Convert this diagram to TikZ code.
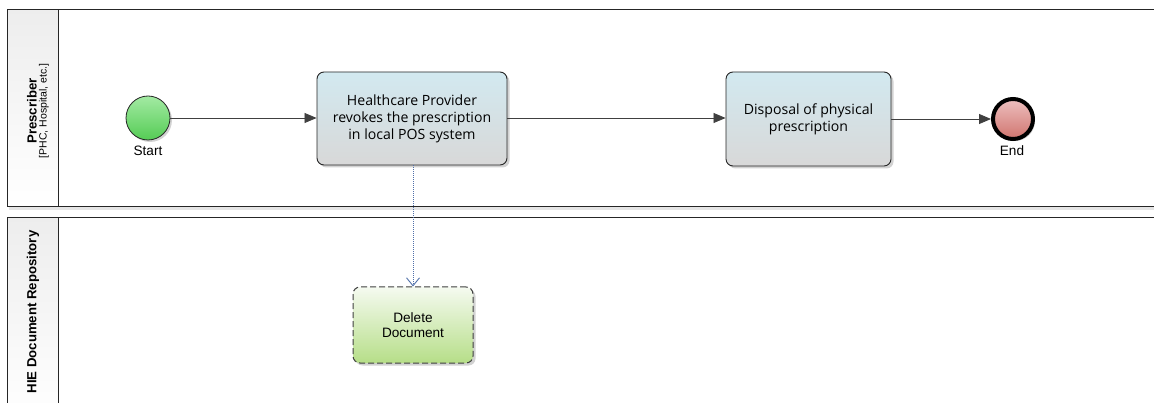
\documentclass[tikz,border=0pt]{standalone}
\usepackage{fontspec}
\setmainfont{Liberation Sans}
\newfontfamily\taskfont{Open Sans}
\usetikzlibrary{arrows.meta,shadows,positioning}
\definecolor{lineg}{HTML}{404040}
\definecolor{assoc}{HTML}{4F6FA8}
\definecolor{taskTop}{HTML}{D2E9F0}
\definecolor{taskBot}{HTML}{D8D8D8}
\definecolor{startTop}{HTML}{A3EAA3}
\definecolor{startBot}{HTML}{55CC55}
\definecolor{endTop}{HTML}{EDC0C0}
\definecolor{endBot}{HTML}{D0746E}
\definecolor{docTop}{HTML}{F5FAF0}
\definecolor{docBot}{HTML}{B6DE88}
\tikzset{
  pool/.style={draw=black!85, line width=1pt, fill=white},
  header/.style={draw=black!85, line width=1pt, top color=black!7, bottom color=white},
  task/.style={draw=black!85, line width=0.9pt, rounded corners=7pt, top color=taskTop, bottom color=taskBot,
     drop shadow={shadow xshift=2.5pt, shadow yshift=-2.5pt, fill=black!35},
     font=\taskfont\fontsize{14.1}{17}\selectfont, align=center, inner sep=0pt},
  startev/.style={circle, draw=black!85, line width=0.8pt, minimum size=44pt, inner sep=0pt, top color=startTop, bottom color=startBot,
     drop shadow={shadow xshift=2pt, shadow yshift=-2pt, fill=black!35}},
  endev/.style={circle, draw=black, line width=4pt, minimum size=40pt, inner sep=0pt, top color=endTop, bottom color=endBot,
     drop shadow={shadow xshift=2pt, shadow yshift=-2pt, fill=black!35}},
  artifact/.style={draw=black!75, line width=1pt, dash pattern=on 6pt off 3pt, rounded corners=7pt, top color=docTop, bottom color=docBot,
     drop shadow={shadow xshift=2.5pt, shadow yshift=-2.5pt, fill=black!35},
     font=\fontsize{13.6}{15.5}\selectfont, align=center, inner sep=0pt},
  flow/.style={draw=lineg, line width=0.8pt, -{Triangle[length=12pt,width=10pt]}},
  assocline/.style={draw=assoc, line width=1pt, dash pattern=on 1pt off 1pt, -{Straight Barb[length=8pt,width=13pt,line width=0.9pt]}},
  evlabel/.style={font=\fontsize{13.6}{15}\selectfont},
}
\begin{document}
\begin{tikzpicture}[x=1pt,y=-1pt]
\useasboundingbox (0,0) rectangle (1154,403);
\begin{scope}
\clip (0,0) rectangle (1154,403);
% pool 1
\fill[black!10] (9,12) rectangle (1170,210);
\draw[pool] (7,10) rectangle (1170,207);
\draw[header] (7,10) rectangle (58,207);
% pool 2
\fill[black!10] (9,220) rectangle (1170,420);
\draw[pool] (7,218) rectangle (1170,420);
\draw[header] (7,218) rectangle (58,420);
\end{scope}
\node[rotate=90, align=center, inner sep=0pt] (h1) at (38,111)
  {{\bfseries\fontsize{13.2}{14}\selectfont Prescriber}\\[-2pt]{\fontsize{10.5}{11}\selectfont [PHC, Hospital, etc.]}};
\node[rotate=90, inner sep=0pt, font=\bfseries\fontsize{13.2}{14}\selectfont] (h2) at (33,312) {HIE Document Repository};

\node[startev] (start) at (148,118) {};
\node[evlabel] (startlbl) at (148,151) {Start};

\node[task, minimum width=190pt, minimum height=93pt] (t1) at (412,118.5)
  {Healthcare Provider\\revokes the prescription\\in local POS system};
\node[task, minimum width=165pt, minimum height=94pt] (t2) at (808.5,119)
  {Disposal of physical\\prescription};

\node[endev] (end) at (1013,119) {};
\node[evlabel] (endlbl) at (1012,151) {End};

\node[artifact, minimum width=120pt, minimum height=76pt] (doc) at (413,325) {Delete\\Document};

\draw[flow] (start) -- (t1.west |- start);
\draw[flow] (t1.east |- start) -- (t2.west |- start);
\draw[flow] (t2.east |- end) -- (end);
\draw[assocline] (t1.south -| doc.north) -- (doc.north);
\end{tikzpicture}
\end{document}
